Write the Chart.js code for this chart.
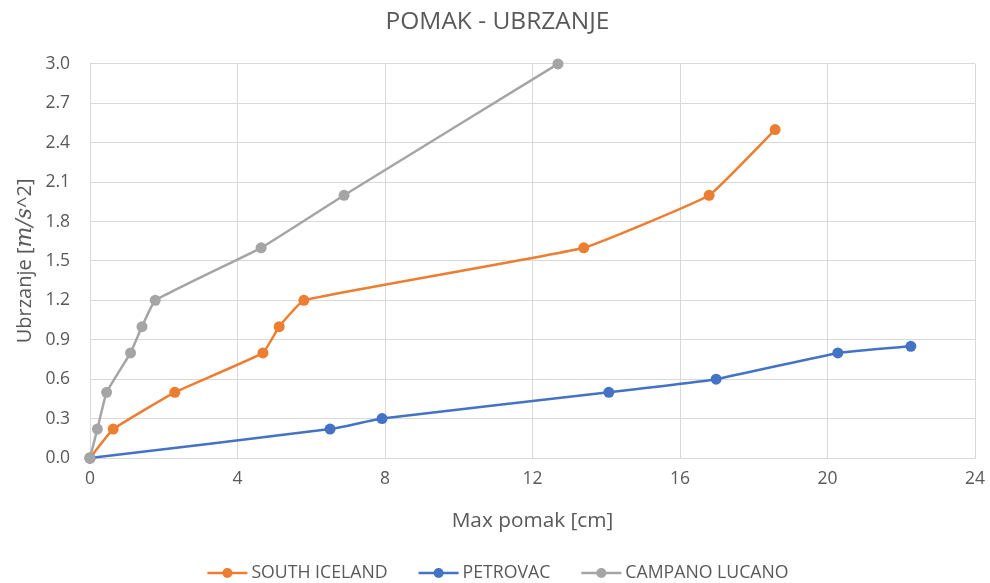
<!DOCTYPE html>
<html>
<head>
<meta charset="utf-8">
<title>POMAK - UBRZANJE</title>
<script src="https://cdn.jsdelivr.net/npm/chart.js@4/dist/chart.umd.min.js"></script>
<style>
  html, body { margin: 0; padding: 0; background: #fff; }
  #wrap { width: 990px; height: 583px; }
</style>
</head>
<body>
<div id="wrap"><canvas id="pomakChart" width="990" height="583"></canvas></div>
<script>
// max pomak [cm] / ubrzanje [m/s^2]
const southIcelandX = [0, 0.63, 2.30, 4.69, 5.13, 5.80, 13.39, 16.79, 18.58];
const southIcelandY = [0, 0.22, 0.50, 0.80, 1.00, 1.20, 1.60, 2.00, 2.50];

const petrovacX = [0, 6.51, 7.92, 14.07, 16.98, 20.28, 22.26];
const petrovacY = [0, 0.22, 0.30, 0.50, 0.60, 0.80, 0.85];

const campanoX = [0, 0.20, 0.45, 1.10, 1.41, 1.77, 4.64, 6.89, 12.69];
const campanoY = [0, 0.22, 0.50, 0.80, 1.00, 1.20, 1.60, 2.00, 3.00];

const xTicks = [0, 4, 8, 12, 16, 20, 24];
const yTicks = [0, 0.3, 0.6, 0.9, 1.2, 1.5, 1.8, 2.1, 2.4, 2.7, 3.0];

const FONT = "'Open Sans', sans-serif";
const TEXT = "#595959";
const GRID = "#d9d9d9";

function toPoints(xs, ys) {
  return xs.map(function (x, i) { return { x: x, y: ys[i] }; });
}

// later series are painted over earlier ones
function series(label, xs, ys, color, order) {
  return {
    label: label,
    data: toPoints(xs, ys),
    order: order,
    showLine: true,
    clip: false,
    borderColor: color,
    backgroundColor: color,
    borderWidth: 2.5,
    pointRadius: 5.5,
    pointHoverRadius: 5.5,
    pointBorderWidth: 0,
    tension: 0.1,
  };
}

// y axis title with the unit in math italics
const yTitlePlugin = {
  id: "yTitle",
  afterDraw: function (chart) {
    const g = chart.ctx;
    const area = chart.chartArea;
    const parts = [
      { text: "Ubrzanje [", font: "20px " + FONT },
      { text: "m/s", font: "italic 22px 'DejaVu Serif', serif" },
      { text: "^2]", font: "20px " + FONT },
    ];
    let total = 0;
    parts.forEach(function (p) {
      g.font = p.font;
      p.w = g.measureText(p.text).width;
      total += p.w;
    });
    g.save();
    g.translate(25, (area.top + area.bottom) / 2);
    g.rotate(-Math.PI / 2);
    g.fillStyle = TEXT;
    g.textBaseline = "middle";
    let x = -total / 2;
    parts.forEach(function (p) {
      g.font = p.font;
      g.fillText(p.text, x, 0);
      x += p.w;
    });
    g.restore();
  },
};

// legend row: short line with a marker, then the series name
const lineLegendPlugin = {
  id: "lineLegend",
  afterDraw: function (chart) {
    const g = chart.ctx;
    const iconW = 40, iconGap = 4, itemGap = 31;
    const y = 573;
    g.save();
    g.font = "17.7px " + FONT;
    const items = chart.data.datasets.map(function (ds) {
      return { label: ds.label, color: ds.borderColor, w: g.measureText(ds.label).width };
    });
    let total = 0;
    items.forEach(function (it, i) {
      total += iconW + iconGap + it.w + (i > 0 ? itemGap : 0);
    });
    let x = chart.width / 2 + 3 - total / 2;
    items.forEach(function (it) {
      g.strokeStyle = it.color;
      g.fillStyle = it.color;
      g.lineWidth = 2.5;
      g.beginPath();
      g.moveTo(x, y);
      g.lineTo(x + iconW, y);
      g.stroke();
      g.beginPath();
      g.arc(x + iconW / 2, y, 5, 0, Math.PI * 2);
      g.fill();
      g.fillStyle = TEXT;
      g.textBaseline = "middle";
      g.fillText(it.label, x + iconW + iconGap, y);
      x += iconW + iconGap + it.w + itemGap;
    });
    g.restore();
  },
};

document.addEventListener("DOMContentLoaded", function () {
  const ctx = document.getElementById("pomakChart").getContext("2d");
  const pomakChart = new Chart(ctx, {
    type: "scatter",
    data: {
      datasets: [
        series("SOUTH ICELAND", southIcelandX, southIcelandY, "#ed7d31", 3),
        series("PETROVAC", petrovacX, petrovacY, "#4472c4", 2),
        series("CAMPANO LUCANO", campanoX, campanoY, "#a5a5a5", 1),
      ],
    },
    plugins: [yTitlePlugin, lineLegendPlugin],
    options: {
      responsive: false,
      animation: false,
      layout: {
        padding: { left: 20, right: 15, top: 0, bottom: 35 },
      },
      plugins: {
        title: {
          display: true,
          text: "POMAK - UBRZANJE",
          color: TEXT,
          font: { family: FONT, size: 24.5, weight: "normal" },
          padding: { top: 7.5, bottom: 27 },
        },
        legend: { display: false },
        tooltip: { enabled: false },
      },
      scales: {
        x: {
          type: "linear",
          min: 0,
          max: 24,
          afterBuildTicks: function (axis) {
            axis.ticks = xTicks.map(function (v) { return { value: v }; });
          },
          afterFit: function (axis) {
            axis.height = 90;
            axis.paddingLeft = 0;
            axis.paddingRight = 0;
          },
          grid: { color: GRID, lineWidth: 1, drawTicks: false },
          border: { color: GRID },
          ticks: {
            color: TEXT,
            font: { family: FONT, size: 17.5 },
            padding: 11,
          },
          title: {
            display: true,
            text: "Max pomak [cm]",
            color: TEXT,
            font: { family: FONT, size: 20.8 },
            padding: { top: 0, bottom: 14 },
          },
        },
        y: {
          type: "linear",
          min: 0,
          max: 3,
          afterBuildTicks: function (axis) {
            axis.ticks = yTicks.map(function (v) { return { value: v }; });
          },
          afterFit: function (axis) { axis.width = 70; },
          grid: { color: GRID, lineWidth: 1, drawTicks: false },
          border: { color: GRID },
          ticks: {
            color: TEXT,
            font: { family: FONT, size: 17.5 },
            padding: 20,
            callback: function (v) { return Number(v).toFixed(1); },
          },
        },
      },
    },
  });
});
</script>
</body>
</html>
